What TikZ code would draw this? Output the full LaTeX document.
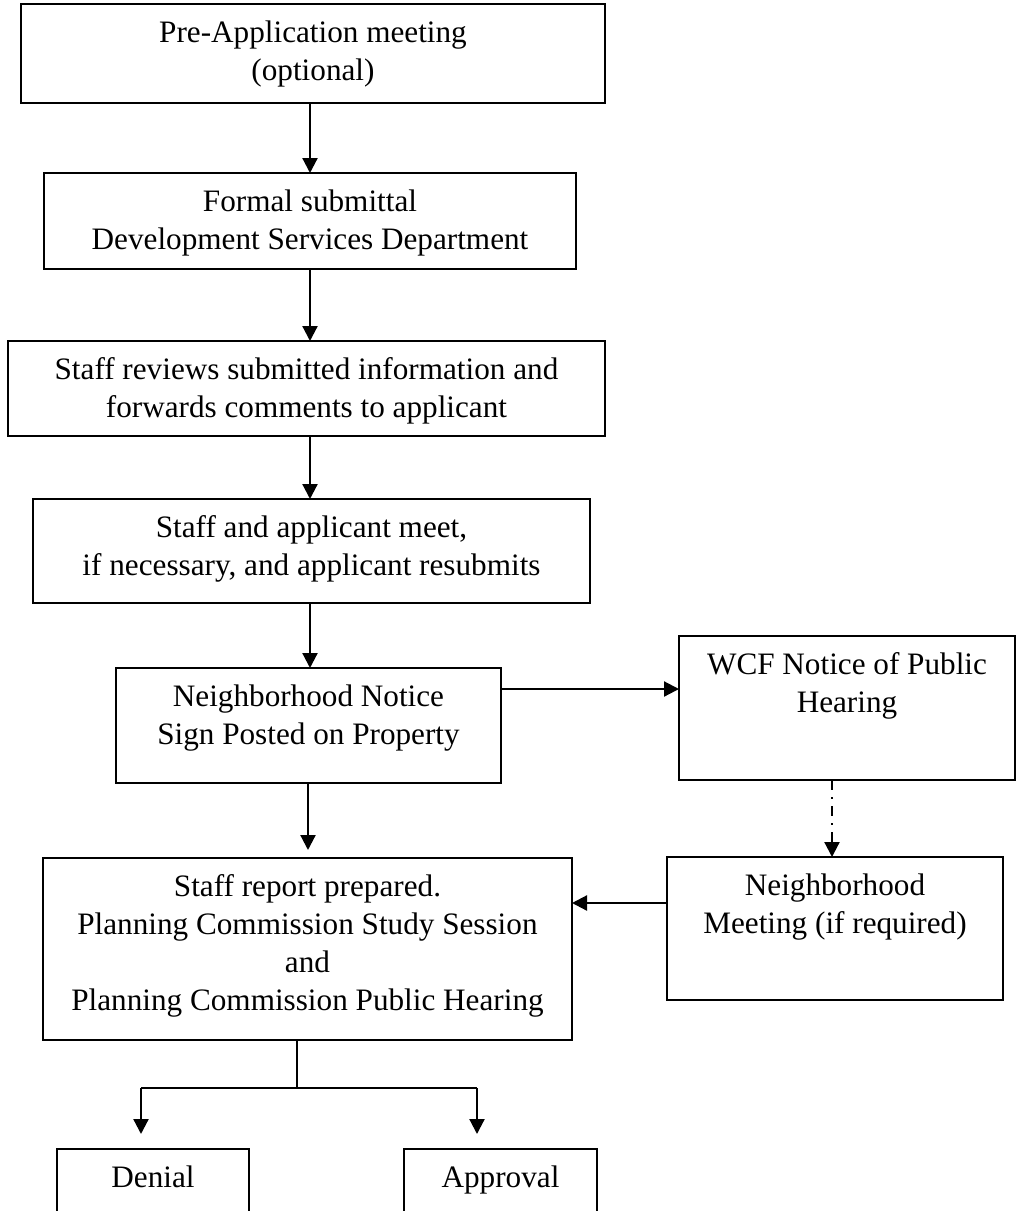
\documentclass[tikz,border=0pt]{standalone}
\usepackage{fontspec}
\setmainfont{Liberation Serif}
\usetikzlibrary{arrows.meta}
\begin{document}
\begin{tikzpicture}[x=1pt,y=-1pt,
  box/.style={draw, line width=1.8pt, inner sep=0pt, outer sep=0pt},
  txt/.style={font=\fontsize{31.2}{38}\selectfont, align=center, inner sep=0pt},
  boxlabel/.style={label={[txt,anchor=north,yshift=-11.5pt]north:\strut #1}},
  conn/.style={line width=2.2pt},
  arr/.style={conn, -{Triangle[length=15pt,width=15pt]}},
  dashdot/.style={conn, dash pattern=on 10pt off 7pt on 2pt off 7pt, -{Triangle[length=15pt,width=15pt]}}
]
\useasboundingbox (0,0) rectangle (1022,1211);
\clip (0,0) rectangle (1022,1211);
\fill[white] (0,0) rectangle (1022,1211);

\node[box, minimum width=584pt, minimum height=99pt,
  boxlabel={Pre-Application meeting\\(optional)}] (b1) at (313,53.5) {};
\node[box, minimum width=532pt, minimum height=96pt,
  boxlabel={Formal submittal\\Development Services Department}] (b2) at (310,221) {};
\node[box, minimum width=597pt, minimum height=95pt,
  boxlabel={Staff reviews submitted information and\\forwards comments to applicant}] (b3) at (306.5,388.5) {};
\node[box, minimum width=557pt, minimum height=104pt,
  boxlabel={Staff and applicant meet,\\if necessary, and applicant resubmits}] (b4) at (311.5,551) {};
\node[box, minimum width=385pt, minimum height=115pt,
  boxlabel={Neighborhood Notice\\Sign Posted on Property}] (b5) at (308.5,725.5) {};
\node[box, minimum width=336pt, minimum height=144pt,
  boxlabel={WCF Notice of Public\\Hearing}] (wcf) at (847,708) {};
\node[box, minimum width=336pt, minimum height=143pt,
  boxlabel={Neighborhood\\Meeting (if required)}] (nm) at (835,928.5) {};
\node[box, minimum width=529pt, minimum height=182pt,
  boxlabel={Staff report prepared.\\Planning Commission Study Session\\and\\Planning Commission Public Hearing}] (sr) at (307.5,949) {};
\node[box, minimum width=192pt, minimum height=81pt,
  boxlabel={Denial}] (den) at (153,1189.5) {};
\node[box, minimum width=193pt, minimum height=81pt,
  boxlabel={Approval}] (app) at (500.5,1189.5) {};

\coordinate (mx) at (310,0);
\coordinate (m2) at (308,0);
\coordinate (h1) at (0,689);
\coordinate (h2) at (0,903);
\coordinate (dx) at (832,0);
\coordinate (split) at (297,1088);
\coordinate (dl) at (141,1088);
\coordinate (dr) at (477,1088);

\draw[arr] (b1.south -| mx) -- (b2.north -| mx);
\draw[arr] (b2.south -| mx) -- (b3.north -| mx);
\draw[arr] (b3.south -| mx) -- (b4.north -| mx);
\draw[arr] (b4.south -| mx) -- (b5.north -| mx);
\draw[arr] (b5.south -| m2) -- ([yshift=8pt]sr.north -| m2);
\draw[arr] (b5.east |- h1) -- (wcf.west |- h1);
\draw[dashdot] (wcf.south -| dx) -- (nm.north -| dx);
\draw[arr] (nm.west |- h2) -- (sr.east |- h2);
\draw[conn] (sr.south -| split) -- (split);
\draw[conn] (dl) -- (dr);
\draw[arr] (dl) -- ([yshift=15pt]den.north -| dl);
\draw[arr] (dr) -- ([yshift=15pt]app.north -| dr);
\end{tikzpicture}
\end{document}
